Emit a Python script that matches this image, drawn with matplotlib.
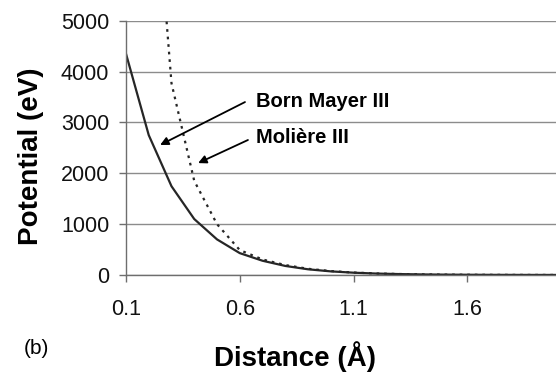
import matplotlib
matplotlib.use("Agg")
import matplotlib.pyplot as plt

plt.rcParams['font.family'] = ['Liberation Sans', 'DejaVu Sans']

# interatomic distance (angstrom) and potential energies (eV)
distance = [0.1, 0.2, 0.3, 0.4, 0.5, 0.6, 0.7, 0.8, 0.9, 1.0,
            1.1, 1.2, 1.3, 1.4, 1.5, 1.6, 1.7, 1.8, 1.9, 2.0]
born_mayer = [4350, 2750, 1745, 1100, 700, 430, 280, 178, 112, 71,
              45, 28, 18, 11, 7, 4.5, 2.8, 1.8, 1.1, 0.7]
moliere = [None, 9400, 3770, 1850, 1000, 490, 305, 195, 122, 77,
           48, 30, 19, 12, 7.5, 4.7, 3, 1.9, 1.2, 0.8]

y_ticks = [0, 1000, 2000, 3000, 4000, 5000]
x_ticks = [0.1, 0.6, 1.1, 1.6]

fig = plt.figure(figsize=(5.56, 3.72), dpi=100)
ax = fig.add_axes([0.2266, 0.2608, 0.7734, 0.6836])

line_col = '#262626'
ax.plot(distance, born_mayer, color=line_col, lw=1.6, solid_joinstyle='miter')
mx = [d for d, v in zip(distance, moliere) if v is not None]
my = [v for v in moliere if v is not None]
ax.plot(mx, my, color=line_col, lw=1.6, linestyle=(0, (1.2, 2.2)))

ax.set_xlim(0.1, 1.99)
ax.set_ylim(0, 5000)
ax.set_yticks(y_ticks)
ax.set_xticks(x_ticks)
ax.set_xticklabels([f"{t:.1f}" for t in x_ticks])
ax.grid(axis='y', color='#8c8c8c', lw=1.0)
ax.set_axisbelow(True)

for s in ['top', 'right']:
    ax.spines[s].set_visible(False)
for s in ['left', 'bottom']:
    ax.spines[s].set_color('#6e6e6e')
    ax.spines[s].set_linewidth(1.0)

ax.tick_params(axis='both', direction='out', length=5, width=1.0,
               color='#6e6e6e', labelsize=15.5, labelcolor='#111111')
ax.tick_params(axis='y', pad=7)
ax.tick_params(axis='x', pad=12)

ax.set_ylabel('Potential (eV)', fontsize=20, fontweight='bold')
ax.yaxis.set_label_coords(-0.19, 0.468)
ax.set_xlabel('Distance (Å)', fontsize=20, fontweight='bold')
ax.xaxis.set_label_coords(0.393, -0.26)

# labels with arrows pointing at each curve
arrow = dict(arrowstyle='-|>', color='black', lw=1.3, mutation_scale=12,
             shrinkA=0, shrinkB=0)
ax.text(0.67, 3420, 'Born Mayer III', fontsize=14.5, fontweight='bold',
        va='center', ha='left')
ax.annotate('', xy=(0.25, 2556), xytext=(0.623, 3400), arrowprops=arrow)
ax.text(0.67, 2700, 'Molière III', fontsize=14.5, fontweight='bold',
        va='center', ha='left')
ax.annotate('', xy=(0.417, 2200), xytext=(0.636, 2654), arrowprops=arrow)

fig.text(0.043, 0.0645, '(b)', fontsize=15, ha='left', va='center')

fig.savefig('out.png', dpi=100)
